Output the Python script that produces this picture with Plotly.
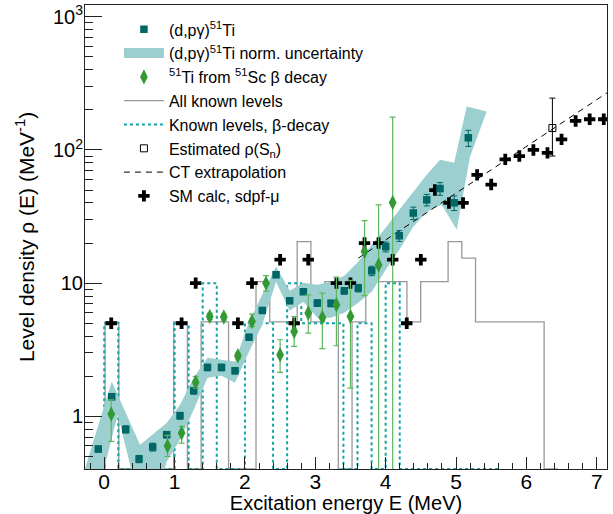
import plotly.graph_objects as go

FONT = "Liberation Sans, Arial, sans-serif"

# ---------------- data ----------------
# (d,p gamma) 51Ti, Oslo method level density
oslo_E = [-0.085, 0.107, 0.306, 0.495, 0.689, 0.888, 1.077, 1.272, 1.468, 1.667,
          1.859, 2.058, 2.247, 2.442, 2.636, 2.830, 3.029, 3.223, 3.412, 3.611,
          3.802, 4.001, 4.194, 4.393, 4.584, 4.773, 4.974, 5.175]
oslo_rho = [0.569, 1.405, 0.799, 0.479, 0.589, 0.729, 1.012, 1.559, 2.331, 2.331,
            2.202, 3.928, 6.24, 11.56, 7.38, 8.62, 7.09, 7.05, 8.77, 9.19,
            12.39, 18.76, 22.68, 33.6, 42.2, 51.3, 40.1, 123.3]
oslo_err = [0.03, 0.08, 0.05, 0.03, 0.04, 0.04, 0.06, 0.09, 0.13, 0.13,
            0.12, 0.2, 0.3, 0.5, 0.35, 0.4, 0.4, 0.4, 0.5, 0.6,
            1.0, 1.6, 2.1, 3.6, 4.2, 5.6, 5.0, 17.0]

# normalisation-uncertainty band (outline: upper edge left->right, lower edge right->left)
band_up_E = [-0.344, 0.107, 0.509, 0.888, 1.077, 1.272, 1.468, 1.667, 1.859, 2.058,
             2.247, 2.442, 2.636, 2.830, 3.029, 3.223, 3.412, 3.611, 3.802, 4.001,
             4.194, 4.393, 4.584, 4.773, 4.974, 5.152, 5.436]
band_up_rho = [0.307, 1.83, 0.613, 0.892, 1.224, 1.951, 2.757, 2.663, 2.573, 5.13,
               8.18, 13.35, 8.77, 10.07, 9.72, 10.24, 11.36, 14.47, 19.41, 26.04,
               35.53, 48.5, 65.06, 84.3, 80.0, 211.7, 194.1]
band_lo_E = [5.199, 5.010, 4.797, 4.584, 4.393, 4.194, 4.001, 3.802, 3.611, 3.412,
             3.223, 3.029, 2.830, 2.636, 2.442, 2.247, 2.058, 1.859, 1.667, 1.468,
             1.272, 1.077, 0.888, 0.793, 0.438, 0.192, -0.060]
band_lo_rho = [88.8, 25.2, 38.7, 34.3, 26.5, 17.8, 12.6, 8.62, 7.13, 6.0,
               5.50, 5.50, 7.25, 6.21, 10.24, 4.88, 3.06, 1.79, 2.02, 1.95,
               1.12, 0.669, 0.457, 0.307, 0.307, 1.03, 0.307]

# 51Ti from 51Sc beta decay
beta_E = [0.1, 0.9, 1.1, 1.3, 1.5, 1.7, 1.9, 2.1, 2.3, 2.5, 2.7, 2.9, 3.1, 3.3, 3.5, 3.7, 3.9, 4.1]
beta_rho = [1.04, 0.60, 0.75, 1.80, 5.63, 5.57, 2.85, 5.16, 10.0, 2.90, 4.34, 5.97, 5.53, 6.89,
            5.62, 17.3, 13.7, 40.3]
beta_err_hi = [0.29, 0.12, 0.09, 0.20, 0.3, 0.3, 0.15, 0.7, 1.4, 0.86, 1.28, 2.2, 2.9, 4.2,
               4.86, 12.2, 25.0, 136.0]
beta_err_lo = [0.39, 0.10, 0.12, 0.17, 0.3, 0.3, 0.15, 0.45, 1.3, 0.76, 0.99, 1.75, 2.3, 3.5,
               3.99, 9.25, 13.6, 40.2]

# all known levels (histogram, bin edges + density)
known_edges = [-0.1825, 0.0125, 0.2075, 0.4025, 0.5975, 0.7925, 0.9875, 1.1825, 1.3775, 1.5725,
               1.7675, 1.9625, 2.1575, 2.3525, 2.5475, 2.7425, 2.9375, 3.1325, 3.3275, 3.5225,
               3.7175, 3.9125, 4.1075, 4.3025, 4.4975, 4.6925, 4.8875, 5.0825, 5.2775, 5.4725,
               5.6675, 5.8625, 6.0575, 6.2525, 6.4475]
known_rho = [0, 5.13, 0, 0, 0, 0, 5.13, 0, 5.13, 5.13,
             0, 0, 10.26, 5.13, 5.13, 20.5, 5.13, 10.26, 0, 5.13,
             10.26, 10.26, 10.26, 5.13, 10.26, 10.26, 20.5, 15.4, 5.13, 5.13,
             5.13, 5.13, 5.13, 0]

# known levels populated in beta decay (histogram)
bdk_edges = [-0.4, -0.2, 0.0, 0.2, 0.4, 0.6, 0.8, 1.0, 1.2, 1.4, 1.6, 1.8, 2.0, 2.2, 2.4, 2.6,
             2.8, 3.0, 3.2, 3.4, 3.6, 3.8, 4.0, 4.2, 4.4, 4.6, 4.8, 5.0, 5.2, 5.4, 5.6]
bdk_rho = [0, 0, 5, 0, 0, 0, 0, 5, 0, 10, 0, 0, 5, 5, 0, 10, 5, 5, 5, 0,
           5, 0, 10, 0, 0, 0, 0, 0, 0, 0]

# estimated rho(Sn)
sn_E = [6.37]
sn_rho = [146.0]
sn_err_hi = [99.0]
sn_err_lo = [56.0]

# constant-temperature extrapolation (end points)
ct_E = [3.61, 7.2]
ct_rho = [15.4, 280.0]

# shell-model calculation, sdpf-mu
sm_E = [0.1, 1.1, 1.3, 1.9, 2.1, 2.5, 2.7, 2.9, 3.3, 3.5, 3.7, 3.9, 4.1, 4.3, 4.5, 4.7, 4.9,
        5.1, 5.3, 5.5, 5.7, 5.9, 6.1, 6.3, 6.5, 6.7, 6.9, 7.1]
sm_rho = [5, 5, 10, 5, 10, 15, 5, 15, 10, 10, 20, 20, 15, 5, 15, 50, 40, 40, 65, 55, 85, 90,
          100, 95, 120, 165, 170, 170]

# axes
X_RANGE = [-0.273, 7.146]
Y_LOG_RANGE = [-0.395, 3.088]
Y_FLOOR = 10 ** Y_LOG_RANGE[0]
y_tickvals = [1, 10, 100, 1000]
y_ticktext = ["1", "10", "10<sup>2</sup>", "10<sup>3</sup>"]

BAND_COLOR = "#9ccfcf"


def step_xy(edges, vals):
    ys = [v if v > 0 else Y_FLOOR for v in vals]
    return list(edges), ys + [ys[-1]]


fig = go.Figure()

kx, ky = step_xy(known_edges, known_rho)
fig.add_trace(go.Scatter(x=kx, y=ky, mode="lines", line=dict(color="#999999", width=1.3, shape="hv"),
                         name="All known levels", legendrank=4))
bx, by = step_xy(bdk_edges, bdk_rho)
fig.add_trace(go.Scatter(x=bx, y=by, mode="lines",
                         line=dict(color="#13a3a3", width=2, shape="hv", dash="3px,3px"),
                         name="Known levels, β-decay", legendrank=5))

fig.add_trace(go.Scatter(x=band_up_E + band_lo_E, y=band_up_rho + band_lo_rho, mode="lines",
                         fill="toself", fillcolor=BAND_COLOR, line=dict(width=0, color=BAND_COLOR),
                         showlegend=False, hoverinfo="skip"))
# legend entry for the band (rectangular swatch)
fig.add_trace(go.Scatter(x=[None], y=[None], mode="lines", line=dict(width=17, color=BAND_COLOR),
                         name="(d,pγ)<sup>51</sup>Ti norm. uncertainty", legendrank=2))

fig.add_trace(go.Scatter(x=ct_E, y=ct_rho, mode="lines", line=dict(color="black", width=1, dash="6px,5px"),
                         name="CT extrapolation", legendrank=7))

fig.add_trace(go.Scatter(x=sm_E, y=sm_rho, mode="markers",
                         marker=dict(symbol="cross", size=9.5, color="black", line=dict(width=0)),
                         name="SM calc, sdpf-μ", legendrank=8))

fig.add_trace(go.Scatter(x=oslo_E, y=oslo_rho, mode="markers",
                         marker=dict(symbol="square", size=7.5, color="#006666", line=dict(width=0)),
                         error_y=dict(type="data", array=oslo_err, color="#006666", thickness=1, width=3),
                         name="(d,pγ)<sup>51</sup>Ti", legendrank=1))

fig.add_trace(go.Scatter(x=beta_E, y=beta_rho, mode="markers",
                         marker=dict(symbol="diamond-tall", size=11, color="#339933", line=dict(width=0)),
                         error_y=dict(type="data", symmetric=False, array=beta_err_hi, arrayminus=beta_err_lo,
                                      color="#5cb85c", thickness=1.2, width=3),
                         name="<sup>51</sup>Ti from <sup>51</sup>Sc β decay", legendrank=3))

fig.add_trace(go.Scatter(x=sn_E, y=sn_rho, mode="markers",
                         marker=dict(symbol="square-open", size=7, color="black", line=dict(width=1)),
                         error_y=dict(type="data", symmetric=False, array=sn_err_hi, arrayminus=sn_err_lo,
                                      color="black", thickness=1, width=3),
                         name="Estimated ρ(S<sub>n</sub>)", legendrank=6))

minor_y = [m * 10 ** k for k in range(-1, 3) for m in range(2, 10)]

fig.update_layout(
    width=613, height=514,
    margin=dict(l=85, r=6, t=5, b=45, autoexpand=False),
    paper_bgcolor="white", plot_bgcolor="white",
    font=dict(family=FONT, color="black", size=17),
    showlegend=True,
    legend=dict(x=0.065, y=0.984, xanchor="left", yanchor="top", bgcolor="rgba(0,0,0,0)",
                font=dict(size=16, family=FONT), itemwidth=40, tracegroupgap=0),
    xaxis=dict(range=X_RANGE, showline=True, linecolor="#222", linewidth=1, mirror=True,
               automargin=False,
               ticks="inside", ticklen=12, tickcolor="#222", dtick=1, tick0=0,
               minor=dict(ticks="inside", ticklen=6, dtick=0.2, tick0=0, tickcolor="#222"),
               showgrid=False, zeroline=False, tickfont=dict(size=21), ticklabelstandoff=-6,
               title=dict(text="Excitation energy E (MeV)", font=dict(size=20), standoff=3)),
    yaxis=dict(type="log", range=Y_LOG_RANGE, showline=True, linecolor="#222", linewidth=1, mirror=True,
               automargin=False,
               ticks="inside", ticklen=17, tickcolor="#222",
               tickmode="array", tickvals=y_tickvals, ticktext=y_ticktext,
               minor=dict(ticks="inside", ticklen=8, tickmode="array", tickvals=minor_y, tickcolor="#222"),
               showgrid=False, zeroline=False, tickfont=dict(size=20), ticklabelstandoff=-3,
               title=dict(text="Level density ρ (E) (MeV<sup>-1</sup>)", font=dict(size=21), standoff=12)),
)

fig.write_html("out.html")
